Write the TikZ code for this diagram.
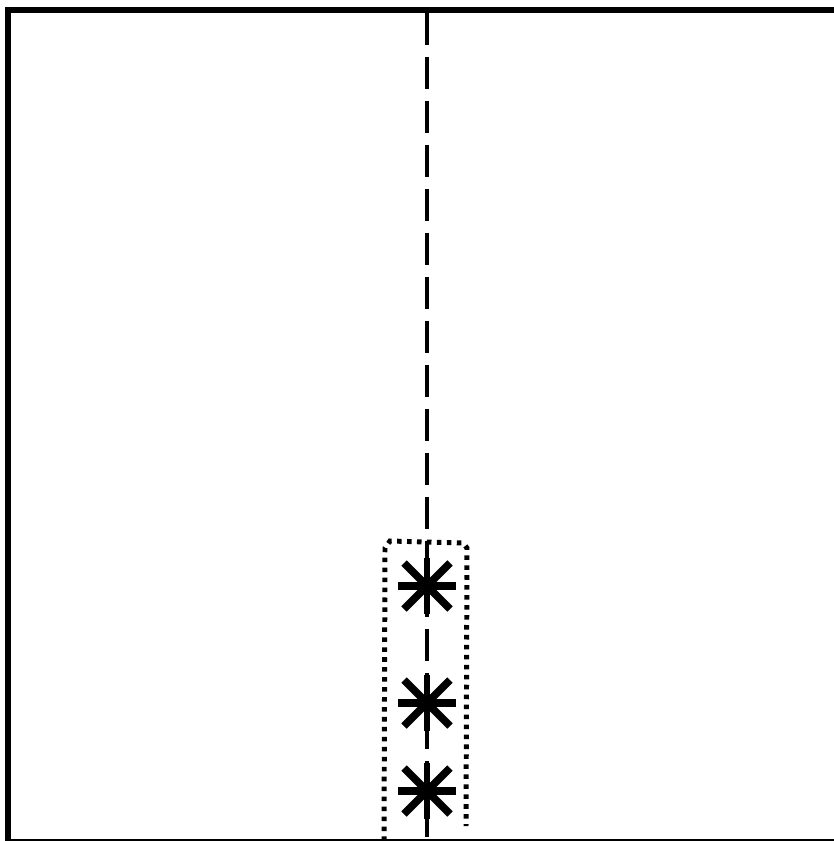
\documentclass[tikz,border=0pt]{standalone}
\tikzset{
  frameline/.style={line width=4.1pt},
  axisline/.style={line width=2.7pt, dash pattern=on 21.85pt off 8.2pt},
  boxline/.style={line width=3.4pt, dash pattern=on 3.1pt off 3.7pt},
  starbar/.style={line width=5.2pt}
}
\begin{document}
\begin{tikzpicture}[x=0.024cm, y=-0.024cm]
  \useasboundingbox (0,0) rectangle (833,841);

  % frame
  \draw[frameline] (8,845) |- (845,10.5);
  \draw[line width=1.4pt] (8,840) -- (845,840);

  % axis
  \coordinate (axtop) at (427,13);
  \coordinate (axbot) at (427,841);
  \draw[axisline] (axtop) -- (axbot);

  % dotted box
  \draw[boxline] (384,841) -- (385,548) -- (390,541) -- (463,543)
    -- (467,548) -- (466,826);

  % asterisks
  \foreach \y in {586,703,791} {
    \draw[starbar] (398,\y) -- (456,\y);
    \draw[starbar] (404,\y-23) -- (450,\y+23);
    \draw[starbar] (404,\y+23) -- (450,\y-23);
    \draw[line width=3.6pt] (427,\y-28) -- (427,\y+28);
  }
\end{tikzpicture}
\end{document}
